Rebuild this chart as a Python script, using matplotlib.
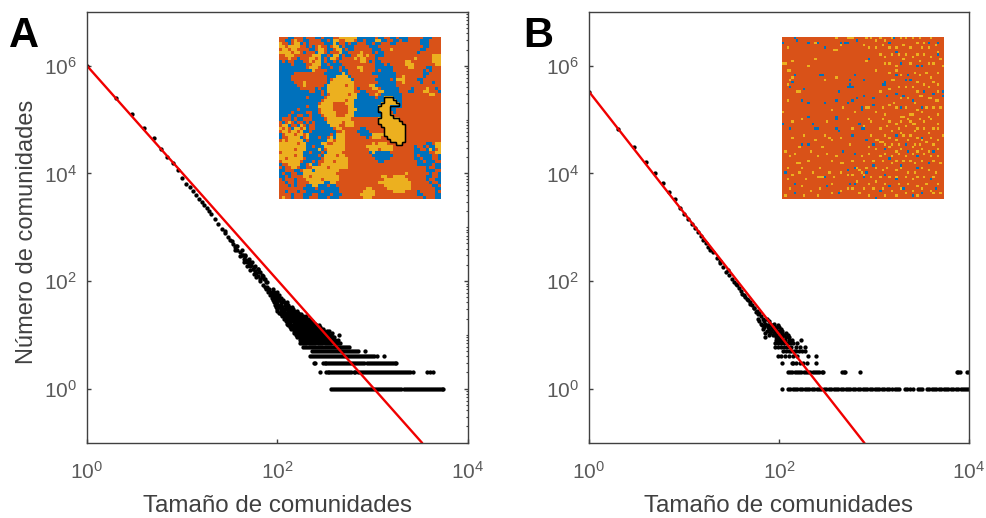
import numpy as np
import matplotlib
matplotlib.use('Agg')
from matplotlib import pyplot as plt
from matplotlib.ticker import FixedLocator, LogLocator, NullLocator, NullFormatter

plt.rcParams['font.family'] = ['Liberation Sans', 'DejaVu Sans']
plt.rcParams['mathtext.fontset'] = 'custom'
plt.rcParams['mathtext.rm'] = 'Liberation Sans'
plt.rcParams['mathtext.default'] = 'regular'

#######################################################
## data, panel A
#######################################################

line_a_x = [1, 3270]
line_a_y = [1000000, 0.1]

main_a_x = [1, 2, 3, 4, 5, 6, 7, 8, 9, 10, 11, 12, 13, 14, 15, 16, 17, 18, 19, 20,
            22, 24, 26, 28, 30, 32, 34, 36, 38, 40, 42, 45, 48, 50, 52, 55, 58, 60, 63, 66,
            28, 33, 37, 43, 46, 53, 57, 62, 68, 72, 47, 51, 64, 69, 75, 78,
            36, 40, 44, 48, 52, 56, 60, 65, 70, 74, 38, 42, 46, 50, 54, 58, 62, 66, 70, 74, 78]
main_a_y = [1000000, 255000, 129000, 71000, 46000, 29000, 20000, 15400, 11400, 8100,
            6500, 5500, 4700, 4000, 3400, 3000, 2600, 2250, 2000, 1750,
            1400, 1130, 930, 780, 660, 570, 490, 430, 380, 340, 305, 260, 225, 200, 190, 170, 155, 140, 125, 110,
            840, 560, 440, 300, 290, 195, 180, 165, 130, 110, 250, 225, 145, 120, 95, 78,
            380, 290, 225, 190, 160, 135, 118, 100, 85, 78, 440, 370, 310, 260, 225, 190, 165, 145, 125, 110, 98]

rows_a_counts = [1, 2, 3, 4, 5, 6, 7, 8, 9, 10, 11, 12, 13, 14, 15, 16, 18, 20,
                 22, 24, 26, 28, 30, 33, 36, 40, 44, 48, 55, 62, 70]
rows_a_sizes = [
    [365, 383, 402, 422, 443, 465, 488, 512, 538, 565, 593, 622, 653, 686, 720, 756, 794, 834, 875, 919,
     965, 1013, 1063, 1116, 1172, 1231, 1292, 1357, 1424, 1495, 1570, 1648, 1730, 1817, 1908, 2003, 2103,
     2208, 2318, 2434, 2556, 2684, 2818, 2959, 3107, 3262, 3425, 3596, 3776, 3965, 4163, 4371, 4590, 4820, 5060, 5300, 5460],
    [279, 323, 335, 350, 368, 385, 405, 425, 446, 468, 492, 516, 542, 569, 598, 628, 659, 692, 727, 763,
     801, 841, 883, 927, 973, 1022, 1073, 1127, 1183, 1242, 1304, 1370, 1438, 1510, 1585, 1664, 1747, 1834,
     1926, 2022, 2123, 2230, 2340, 2460, 2650, 3710, 3950, 4320],
    [241, 250, 300, 312, 325, 340, 358, 375, 394, 414, 435, 456, 479, 503, 528, 555, 583, 612, 642, 674,
     708, 743, 780, 819, 860, 903, 948, 996, 1046, 1098, 1153, 1210, 1270, 1335, 1400, 1470, 1545, 1620, 1700, 1760],
    [219, 228, 240, 252, 265, 278, 292, 306, 322, 338, 355, 372, 391, 410, 431, 452, 475, 499, 524, 550,
     578, 606, 637, 669, 702, 737, 774, 813, 853, 896, 941, 988, 1037, 1110, 1310],
    [230, 242, 254, 266, 280, 294, 309, 324, 340, 357, 375, 394, 413, 434, 456, 479, 503, 528, 554, 582, 611, 642, 674, 700, 830],
    [185, 195, 204, 214, 225, 236, 248, 260, 273, 287, 301, 316, 332, 349, 366, 384, 404, 424, 445, 467, 490, 515, 540, 570],
    [172, 180, 190, 200, 212, 224, 236, 250, 264, 280, 296, 312, 330, 348, 368, 388, 410, 432, 452],
    [172, 178, 186, 196, 206, 218, 230, 244, 258, 272, 288, 305, 322, 340, 360, 380, 405, 435],
    [160, 168, 178, 188, 198, 210, 222, 235, 250, 265, 282, 300, 318, 338, 358, 380, 395],
    [155, 165, 175, 186, 198, 210, 224, 238, 252, 268, 285, 303, 322, 345, 365, 443],
    [150, 160, 170, 180, 192, 205, 218, 232, 248, 262, 280, 298, 318, 340, 372],
    [148, 158, 168, 178, 190, 202, 215, 228, 243, 258, 275, 292, 310, 330, 350],
    [140, 148, 158, 170, 182, 194, 206, 220, 235, 250, 268, 285, 300],
    [135, 146, 156, 166, 178, 190, 203, 216, 230, 245, 262, 280],
    [130, 140, 150, 162, 174, 186, 198, 212, 226, 240, 256, 270],
    [126, 136, 148, 158, 170, 182, 194, 206, 220, 236, 250],
    [122, 132, 142, 154, 164, 176, 188, 200, 214, 228],
    [116, 126, 136, 146, 156, 168, 180, 192, 205, 215],
    [112, 120, 130, 140, 150, 162, 174, 186, 198],
    [108, 116, 125, 135, 146, 156, 168, 178],
    [104, 112, 122, 132, 142, 152, 165],
    [100, 110, 118, 128, 138, 148, 160],
    [100, 108, 116, 125, 134, 146],
    [96, 104, 112, 122, 132, 142],
    [94, 102, 110, 120, 130],
    [92, 100, 108, 116, 126],
    [90, 96, 104, 114],
    [88, 94, 102, 110],
    [84, 90, 96, 104],
    [80, 86, 92, 98],
    [76, 82, 90],
]

#######################################################
## data, panel B
#######################################################

line_b_x = [1, 785]
line_b_y = [331000, 0.1]

main_b_x = [1, 2, 3, 4, 5, 6, 7, 8, 9, 10, 11, 12, 13, 14, 15, 16, 17, 18, 19, 20,
            22, 24, 26, 28, 30, 32, 34, 36, 38, 40, 43, 46, 49, 52, 55, 58, 61, 64,
            24, 29, 35, 41, 44, 47, 50, 54, 57, 60]
main_b_y = [331000, 66000, 31500, 16100, 10100, 6600, 4580, 3360, 2300, 1750, 1420, 1150, 950, 800, 680, 580, 500, 435, 385, 345,
            270, 215, 180, 150, 128, 110, 95, 84, 74, 66, 56, 47, 41, 36, 31, 28, 25, 22,
            240, 160, 88, 58, 50, 44, 38, 32, 27, 24]

rows_b_counts = [1, 2, 3, 4, 5, 6, 7, 8, 9, 10, 11, 12, 13, 14, 15, 16, 18, 20]
rows_b_sizes = [
    [107, 124, 131, 140, 148, 156, 166, 175, 186, 197, 209, 222, 235, 249, 264, 280, 297, 315, 334, 354,
     375, 398, 422, 447, 474, 503, 533, 565, 599, 635, 674, 714, 757, 803, 851, 903, 957, 1015, 1076, 1141, 1210,
     1283, 1360, 1442, 1530, 1680, 1760, 1840, 2120, 2230, 2380, 2550, 2900, 3050, 3230, 3600, 3800, 4050, 4280,
     4540, 4810, 5100, 5410, 5740, 6080, 6450, 6840, 7250, 7690, 8150, 8640, 9160, 9600, 10000],
    [124, 131, 138, 146, 154, 163, 172, 182, 192, 203, 214, 226, 239, 252, 266, 281, 290,
     460, 480, 495, 715, 7400, 7700, 8000, 9500, 9900],
    [107, 137, 140, 152, 166, 180, 196, 245],
    [97, 106, 116, 126, 140, 155, 200, 245],
    [110, 118, 126, 134, 143, 152, 163, 175, 188],
    [90, 98, 105, 112, 122, 134, 150, 168, 188],
    [90, 97, 104, 112, 122, 132, 142, 155],
    [92, 100, 108, 116, 126, 136, 170],
    [71, 92, 100, 108, 118, 128],
    [78, 86, 94, 104, 114, 124],
    [72, 80, 88, 98, 108, 118],
    [74, 82, 90, 100, 108],
    [68, 78, 86, 94, 104],
    [70, 76, 84, 92, 100],
    [66, 74, 82, 97],
    [64, 72, 80, 88],
    [62, 70, 78],
    [60, 68, 74],
]

#######################################################
## insets
#######################################################

colors = {'O': (0.851, 0.325, 0.098), 'B': (0.0, 0.447, 0.741),
          'Y': (0.929, 0.694, 0.125), 'X': (0.929, 0.694, 0.125)}

map_a = [
    "OOOBBOOOBOOOBBOBBBOOYYYYYYBBBBBBOBBOOBBOBBBOOOOOBBBOOO",
    "OOBBOYOOBBOOOOBBOBYYOOYYYOBBOBBBYYBBOOBBOBBOOOOBBBOOOO",
    "YOOBOYYBOBOOOOOBBBYBOOBOBBOOOBBOBBOOOBBOOOOOOOOBBBOOOO",
    "YYOYYYYOOBOBOYOOBOYYBOBBBOOOOOBBBOOOOOOOOOOOOOOOBBOOOO",
    "OYYOYYOOOOBBOYYOBBOYYBOBBOOOOOOBBBOOOYOOOOOOOOOBBOOOOO",
    "YYYYOYYOBOOOBYYOBOOOYBBOOOOYOOOBOBBOOOOOOOOOOOBOOOOOOO",
    "OOYYYOOOOOOYYYBBOBYYBOBBOOYYOYOOBBBOOOOOOOOOOOOOOOOYYY",
    "OOOYOOBOOOYYOYBOBYYOBOOOOYOYYOOOBOOOOOOOOOOOOYOOOOOYYY",
    "BOBOOBBBOOYOYYBOBBOBOOOOOOOYYOBOBBOOOOOOOOYYOOOOOOOYYY",
    "BBBBOBBBBOOYYYBBOBBBBOOOOOOOOOOOBBBOBOOOOOYYYOOOOOOOYY",
    "BBBBBBBBBOYYYOBBBOBBOBOOOOYYOOOOBBBBBBOOOOOYYOOOOBBOOO",
    "BBBBBBBBBBBYOOOOBBBBOBBOOOOYOOOOBOBBBBOOOOOOOOOOBOBOOO",
    "BBBBBOOOOOOOOOOBBBBBBYBOOOOOOOOBBBBBBBBOOOOOOOOOBBOOOO",
    "BBBBOOOOOOOOOOOOBBBYYYYBOOOOOOOOOBBBBBBOOYOOOOOOBOOOOO",
    "BBBBOOOOOOOOOOOOBOYYYYYYBOOOOOOOBBBBBOBYYYOOOOBBOOOOOO",
    "BBBBBOOOYOOOOOOOBYYYYYYYYOOOOOOOOBBBBBBOOYOOOOOBOOOBOO",
    "BBBBBBOOYOOOOOOBYYYYYYOYYOOOOOYYBBBBBBBOOOOOOOOOOOOOOO",
    "BBBBBBBOOOOOBOBBYYYYYYYYYOBOOOOYYOBBBBBBOOOOBOOOOYOOBO",
    "BBBBBBBBBBOOBBOBYYYYYYYYYOOBBOOOOYYBBBBBOOOBBOOOYYOOOB",
    "BBBBBBBBBBBBBBOBOYYYYYYOYYBBBBOOYOBBBBBBBOOOOOOOOOYYOO",
    "BBBBBBBBBOBBBBBOYYYYYYYYYYBBBBBBOBBXXXBBBOOOOOOOOOOOOO",
    "BBBBBBBBBBBBBBOYYYYYYYOYYBBBBBBBBBBXXXXBBOOOOOOOOOOOOO",
    "BBBBBBBBBBBBBOYYYYOOOOYYYBBBBBBBBBXXXXXXBOOOOOOOOOOOOO",
    "BBBBBBBBBOBBBYYYYYOOOOOYYBBBBBBBBXXXXBBBBOOOOOOOOOOOOO",
    "BBBBBBOBBBBBBOYYYYOOOOOYYYBBBBBBBXXXXBBOOOOOOOOOOOOOOO",
    "BBBBOBBBBOOBBOYYYYYOOOOYYBBBBBBBBBXXXOBOOOOOOOOOOOOOOO",
    "BBBOBBOOBBOBBBOYYYYOOOYYYBBBBBBBBBXXXXOOOOOOOOOOOOOOOO",
    "BOOOBOBBOOOBBBBOYYYYYYYYOOOOOOOOOXXXXXXXOOOOOOOOOOOOOO",
    "OBOYOBOOBOBOBBBBYYYYYOYYYOOOOOOOOXXXXXXXXOOOOOOOOOOOOO",
    "OYYBOOBYOBOOBBBBBYYYOOYYYOOOOOOOOOXXXXXXXXOOOOOOOOOOOO",
    "YOYOBYYOYBOOBBBBBBOYYOOOOOOBBOOOOOOXXXXXXXOOOOOOOOOOOO",
    "OYYOYYOYBBOBBBBBBBBOOYOOOOBBBBOOOOOXXXXXXXOOOOOOOOOOOO",
    "BOYYYOYYOYBBBBBBBOBYYYOOOOOBBBBYYYYXXXXXXXOOOOOOOOOOOO",
    "BOOYYYYBOYBBBOBBOYBYYYOOOOOOOBOYYYOOXXXXXXOOOOOOOOOOOO",
    "OYOYYYYYBOBBBBBBYYOYYYOOOOOOOOOOOOOOOXXXXXOOOOOOOOOOOO",
    "YYYYYYOYYBBBBBYYOOYYYYOOOOOOOOOYOYYYOOOXXOOOOOOOOBBOYY",
    "YYYYYYYYYBBOBBBYYYYYYYOOOOOOOYYYYYYYYYOOOOOOOBOOBOBBYY",
    "YYYYYOYYYBBBBYBOYYYYYYOOOOOOOOYYYOYYYYOOOOOOOBBOOBYBOY",
    "OYYYYYYYBBOBBBOBYYYYYOOOOOOOOOBYBBBBBOOOOOOOOBBBBBOOYY",
    "YYYYYOYYBBBBBOBYYYYOYYOOOOOOOOOBBBBBBBOOOOOOOBOBBBBOOB",
    "YYOYYYYYOBBBBBOYYYYYYYYOOOOOOOOOBBBBBOOOOOOOOBBOBBBOOB",
    "OYYYYYYOBBBOBOOYYYOYYYYOOOOOOOOOOBBOOOOOOOOOOOBBOBBBOO",
    "BOOYYYYBBOYBBOYYYYYYYYYOOOOOOOOOOOOOOOOOOOOOOOBBBBBOBB",
    "OBOOYYOBBOOYYYYYOYYYYYYOOOOOOOOOOOOOOOOOOOOOOOOOOBOOBB",
    "BBOOOBBOYYYBYYYYYYYYOOOOOOOOOOOOOOOOOOOOOOOOOOOOOBBBOO",
    "BOBBOOBBYYYYYYYYYYYOOOOOOOOOOOOOOOOOOOOOOOYOOOOOOOBOOB",
    "BBOBOOOOYYOYYYYYYYYYOOOOOOOOOOOOOOYYOOYYYYOOOOOOOBBOOB",
    "OBOOOBOOOYYYYYOYYYYYOOOOOOOOOOOOOOOYYYYYYYYOOOOOOBOOBB",
    "OOBOOBOOOOYYYYYBBYYOOOOOOOOOOOOOOYYYYYYYYYYYOOOOOOBOOB",
    "OOOBOBOOOBBYYBBBOBBOOOOOOOOOOOOOOOOYYYYYYYYYOOOOOOOBBO",
    "OOOOOOOOBBBBOBBBBBBBOOOOOOOOOYYOOOOOYYYYYYYYOOOOOOOOBB",
    "OOBOOOBOOBBBBBOBBBBBOOOOOOOOYYYYOOOOOOYYYYOOOOBOOOOOBO",
    "OOOOBOOOBBBOOBBBBOBBBOOOOOOYYYYYOOOOOOOOOOOOOOBBOOOOBB",
    "OYOOBOOOBBOOOBBBOBBBOOOOOOOOYYYOOOOOOOOOOOOOOOOOBOOOBB",
]

blue_b = [(24, 24), (25, 24), (45, 24), (42, 26), (42, 27), (42, 29), (41, 30), (42, 30), (43, 30), (50, 27),
          (62, 29), (63, 28), (64, 29), (71, 24), (76, 26), (78, 24), (79, 26), (8, 23), (7, 28), (5, 30),
          (14, 32), (35, 34), (50, 36), (46, 38), (43, 39), (44, 39), (40, 41), (34, 39), (27, 41), (12, 39),
          (17, 41), (57, 38), (49, 44), (49, 45), (57, 42), (65, 36), (71, 35), (75, 36), (80, 39), (86, 44),
          (88, 34), (93, 35), (99, 33), (99, 36), (73, 44), (34, 49), (34, 50), (17, 49), (1, 53), (19, 53),
          (21, 57), (22, 57), (5, 57), (33, 57), (35, 58), (48, 53), (49, 57), (43, 60), (44, 60), (52, 63),
          (70, 60), (51, 57), (17, 66), (12, 67), (56, 67), (38, 71), (45, 72), (63, 69), (78, 70), (66, 75),
          (57, 79), (45, 80), (52, 84), (42, 90), (45, 90), (28, 92), (8, 90), (2, 84), (35, 96), (58, 99),
          (70, 88), (75, 93), (80, 98), (86, 97), (91, 78), (84, 81), (83, 73), (40, 82), (27, 87), (8, 1),
          (16, 4), (37, 3), (39, 3), (41, 3), (47, 2), (69, 0), (66, 4), (70, 9), (73, 16), (83, 18),
          (87, 18), (90, 4), (97, 3), (96, 11), (53, 14), (1, 4), (9, 2), (22, 3), (27, 7), (8, 96),
          (63, 85), (51, 86), (67, 92), (92, 88), (95, 94), (76, 66), (87, 62), (93, 70), (60, 95), (73, 79)]

yellow_b = [(40, 0), (41, 0), (42, 0), (43, 0), (44, 0), (33, 1), (21, 3), (4, 6), (37, 5), (33, 8), (32, 8), (21, 14), (16, 18),
            (7, 15), (1, 16), (2, 16), (3, 20), (5, 21), (33, 25), (10, 33), (9, 33), (5, 27), (6, 25), (4, 29), (4, 39), (1, 47),
            (26, 26), (52, 1), (55, 1), (58, 2), (61, 1), (64, 2), (68, 1), (73, 1), (77, 1), (80, 0), (85, 1), (88, 3), (92, 1),
            (50, 5), (54, 6), (58, 7), (62, 5), (66, 7), (67, 7), (71, 6), (75, 5), (79, 6), (83, 4), (87, 7), (91, 6), (95, 5),
            (60, 10), (64, 12), (68, 10), (72, 11), (76, 10), (80, 12), (84, 10), (88, 11), (92, 12), (96, 9), (98, 14),
            (52, 15), (63, 16), (67, 17), (71, 18), (75, 14), (79, 16), (85, 15), (90, 16), (94, 17), (99, 18),
            (58, 21), (66, 22), (70, 21), (74, 23), (82, 22), (85, 24), (89, 22), (92, 25), (96, 22), (68, 27), (69, 27), (84, 28),
            (88, 29), (94, 28), (97, 29), (72, 30), (76, 31), (80, 30), (83, 33), (90, 31), (96, 33), (61, 33), (67, 32),
            (74, 38), (78, 38), (85, 37), (86, 37), (91, 38), (92, 38), (95, 39), (96, 39), (97, 39), (69, 40), (66, 42), (82, 41),
            (62, 44), (70, 44), (71, 44), (76, 43), (84, 45), (89, 44), (93, 43), (98, 44), (58, 47), (64, 48), (74, 49), (75, 49),
            (79, 48), (80, 48), (86, 47), (90, 49), (96, 48), (53, 50), (55, 52), (62, 51), (66, 52), (70, 53), (74, 52),
            (78, 51), (79, 52), (82, 53), (85, 50), (88, 52), (92, 51), (97, 53), (51, 55), (60, 56), (61, 56), (65, 55), (72, 56),
            (76, 55), (80, 54), (84, 57), (88, 56), (93, 57), (96, 56), (68, 58), (73, 59), (79, 60), (82, 58), (90, 59), (99, 60),
            (55, 60), (64, 61), (67, 62), (71, 63), (75, 61), (84, 62), (86, 63), (92, 62), (97, 63), (58, 64), (59, 64), (60, 65),
            (61, 65), (62, 65), (64, 66), (68, 66), (72, 67), (78, 64), (82, 66), (85, 67), (89, 65), (94, 67), (53, 68), (58, 69),
            (66, 68), (70, 70), (74, 69), (80, 68), (83, 70), (87, 69), (91, 70), (96, 69), (49, 73), (54, 72), (60, 73), (64, 72),
            (68, 73), (72, 72), (76, 73), (80, 72), (84, 74), (88, 72), (92, 74), (97, 73), (44, 76), (50, 76), (56, 77), (62, 76),
            (68, 78), (71, 76), (75, 77), (79, 76), (82, 78), (86, 77), (90, 78), (94, 76), (98, 78), (36, 78), (37, 78), (38, 78),
            (46, 80), (48, 82), (52, 81), (58, 81), (62, 82), (65, 80), (70, 82), (74, 81), (78, 83), (82, 84), (86, 81), (90, 82),
            (95, 83), (41, 85), (43, 85), (49, 84), (50, 85), (55, 86), (61, 87), (66, 86), (70, 86), (76, 87), (80, 88), (84, 86),
            (88, 87), (94, 87), (22, 86), (23, 86), (24, 86), (25, 86), (26, 86), (47, 89), (53, 90), (58, 89), (64, 90), (72, 90),
            (78, 91), (83, 92), (89, 90), (96, 91), (40, 93), (44, 94), (50, 93), (56, 94), (62, 93), (68, 95), (74, 94), (81, 95),
            (86, 94), (92, 95), (98, 96), (30, 97), (36, 95), (48, 97), (54, 98), (64, 98), (71, 98), (77, 97), (84, 98), (94, 97),
            (2, 70), (5, 74), (8, 72), (10, 78), (9, 78), (12, 80), (4, 80), (16, 76), (22, 74), (28, 72), (30, 76), (34, 74), (3, 88),
            (7, 85), (11, 84), (15, 88), (19, 84), (24, 80), (29, 83), (32, 86), (36, 84), (5, 94), (12, 92), (18, 95), (24, 93),
            (30, 90), (2, 98), (14, 98), (22, 98), (7, 62), (13, 60), (20, 63), (26, 60), (31, 64), (37, 62), (42, 66), (6, 52), (12, 50),
            (28, 52), (40, 50), (44, 56), (38, 44), (45, 46), (52, 43), (53, 44), (30, 45), (29, 62), (25, 68), (18, 70), (11, 68)]

W, H = 987.0, 518.0
GRID_B = 70


def px_axes(left, right, top, bottom):
    return [left / W, 1 - bottom / H, (right - left) / W, (bottom - top) / H]


def style_axes(ax, right_ticks=False):
    ax.set_xscale('log')
    ax.set_yscale('log')
    ax.set_xlim(1, 10000)
    ax.set_ylim(0.1, 10000000)
    ax.xaxis.set_major_locator(FixedLocator([1, 100, 10000]))
    ax.yaxis.set_major_locator(FixedLocator([1, 100, 10000, 1000000]))
    ax.xaxis.set_minor_locator(NullLocator())
    ax.yaxis.set_minor_locator(NullLocator())
    ax.tick_params(which='major', direction='in', length=3, width=1, color='#404040',
                   labelcolor='#5a5a5a', labelsize=15)
    ax.tick_params(axis='x', which='major', pad=13)
    ax.tick_params(axis='y', which='major', pad=7)
    if right_ticks:
        ax.yaxis.set_minor_locator(LogLocator(base=10, subs=range(1, 10), numticks=20))
        ax.yaxis.set_minor_formatter(NullFormatter())
        ax.tick_params(axis='y', which='major', right=True)
        ax.tick_params(axis='y', which='minor', left=False, right=True, direction='in', length=1.6, width=0.8, color='#404040')
    for s in ax.spines.values():
        s.set_linewidth(1.0)
        s.set_color('#404040')
    ax.set_xlabel(u'Tama\u00f1o de comunidades', fontsize=17.4, color='#404040', labelpad=9)


def draw_panel(ax, main_x, main_y, row_counts, row_sizes, line_x, line_y):
    ax.plot(main_x, main_y, 'o', ms=3.1, mew=0, color='k')
    for c, sizes in zip(row_counts, row_sizes):
        ax.plot(sizes, [c] * len(sizes), 'o', ms=3.1, mew=0, color='k')
    ax.plot(line_x, line_y, '-', color='#f00000', lw=1.7)


fig = plt.figure(figsize=(9.87, 5.18), dpi=100)

ax1 = fig.add_axes(px_axes(87, 468, 12, 442.5))
draw_panel(ax1, main_a_x, main_a_y, rows_a_counts, rows_a_sizes, line_a_x, line_a_y)
style_axes(ax1, right_ticks=True)
ax1.set_ylabel(u'N\u00famero de comunidades', fontsize=17, color='#404040')
ax1.yaxis.set_label_coords(-0.129, 0.49)

ax2 = fig.add_axes(px_axes(589, 969, 12, 442.5))
draw_panel(ax2, main_b_x, main_b_y, rows_b_counts, rows_b_sizes, line_b_x, line_b_y)
style_axes(ax2)

fig.text(9 / W, 1 - 47 / H, 'A', fontsize=30, fontweight='bold', color='k')
fig.text(523 / W, 1 - 47 / H, 'B', fontsize=30, fontweight='bold', color='k')

# inset A, black outline around the X cluster
img_a = np.array([[colors[c] for c in row] for row in map_a])
mask_a = np.array([[1.0 if c == 'X' else 0.0 for c in row] for row in map_a])
mask_a = np.kron(mask_a, np.ones((4, 4)))
cx = (np.arange(mask_a.shape[1]) + 0.5) / 4 - 0.5
cy = (np.arange(mask_a.shape[0]) + 0.5) / 4 - 0.5
in1 = fig.add_axes(px_axes(279.5, 441.5, 37.5, 199.5))
in1.imshow(img_a, interpolation='nearest', aspect='auto')
in1.contour(cx, cy, mask_a, levels=[0.5], colors='k', linewidths=1.1)
in1.axis('off')

# inset B, all orange except the cells listed
img_b = np.tile(np.array(colors['O']), (GRID_B, GRID_B, 1))
for c, r in yellow_b:
    img_b[r * GRID_B // 100, c * GRID_B // 100] = colors['Y']
for c, r in blue_b:
    img_b[r * GRID_B // 100, c * GRID_B // 100] = colors['B']
in2 = fig.add_axes(px_axes(782.5, 944.5, 37.5, 199.5))
in2.imshow(img_b, interpolation='nearest', aspect='auto')
in2.axis('off')

plt.savefig('out.png', dpi=100)
plt.close()
